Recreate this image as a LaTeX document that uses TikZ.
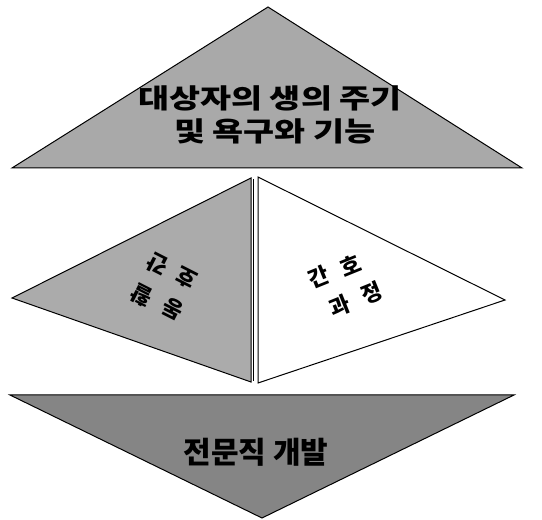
\documentclass[tikz,border=0pt]{standalone}
\usepackage{fontspec}
\newfontfamily\kr{Noto Sans CJK KR}
\definecolor{topgray}{HTML}{A9A9A9}
\definecolor{midgray}{HTML}{ABABAB}
\definecolor{botgray}{HTML}{858585}
\newcommand{\wideTxt}[1]{\scalebox{1.25}[1]{#1}}
\begin{document}
\begin{tikzpicture}[x=1pt,y=1pt,
  tri/.style={draw=black, line width=1pt, line join=miter},
  bigtxt/.style={font=\kr\bfseries\fontsize{27}{33}\selectfont, inner sep=0pt},
  bottxt/.style={font=\kr\bfseries\fontsize{30}{34}\selectfont, inner sep=0pt},
  glyph/.style={font=\kr\bfseries\fontsize{22}{26}\selectfont, inner sep=0pt}]
\useasboundingbox (0,0) rectangle (542,520);
% top triangle
\path[tri, fill=topgray] (268,513) -- (522,352) -- (12,352) -- cycle;
% middle left (shaded)
\path[tri, fill=midgray] (251,342) -- (12,222) -- (251,138) -- cycle;
\draw[line width=0.6pt] (253.5,341) -- (253.5,139);
% middle right (white)
\path[tri, fill=white] (258,343) -- (505,220) -- (258,137) -- cycle;
% bottom triangle
\path[tri, fill=botgray] (10,125) -- (514,125) -- (262,2) -- cycle;
% texts
\node[bigtxt] (t1) at (270,422) {\wideTxt{대상자의 생의 주기}};
\node[bigtxt] (t2) at (275,389) {\wideTxt{및 욕구와 기능}};
\node[bottxt] (b1) at (256,68) {전문직 개발};
% left middle, glyphs upside down
\node[glyph, rotate=153] (la) at (158,256) {간};
\node[glyph, rotate=153] (lb) at (186,242) {호};
\node[glyph, rotate=153] (lc) at (142,225) {활};
\node[glyph, rotate=153] (ld) at (173,211) {동};
% right middle
\node[glyph, rotate=22] (ra) at (319,243) {간};
\node[glyph, rotate=22] (rb) at (350,255) {호};
\node[glyph, rotate=22] (rc) at (340,214) {과};
\node[glyph, rotate=22] (rd) at (372,227) {정};
\end{tikzpicture}
\end{document}
